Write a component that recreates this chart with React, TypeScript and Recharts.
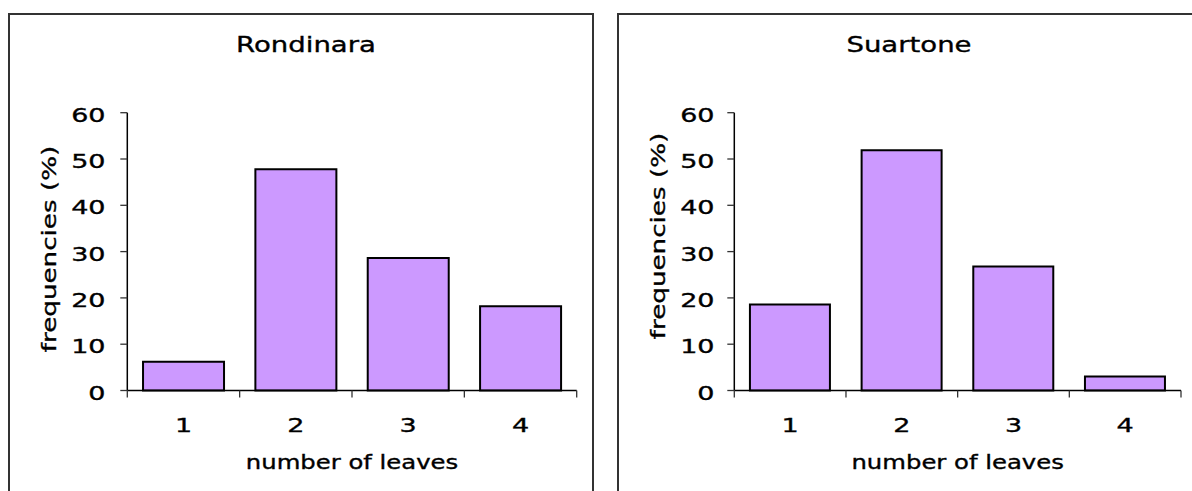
import { BarChart, Bar, XAxis, YAxis } from 'recharts';

// number of leaves per plant, frequencies in %
const categories = ['1', '2', '3', '4'];
const rondinaraFreq = [6.2, 47.8, 28.6, 18.2];
const suartoneFreq = [18.6, 51.9, 26.8, 3.0];
const freqTicks = [0, 10, 20, 30, 40, 50, 60];

const FONT = '"DejaVu Sans", Verdana, sans-serif';
const CHART_W = 582;
const CHART_H = 476;
const PLOT_TOP = 97.7;
const PLOT_BOTTOM = 375.5;
const TEXT_STROKE = 0.35;

const makeRows = (values: number[]) =>
  categories.map((c, i) => ({ leaves: c, freq: values[i] }));

// category label plus Excel-style tick marks on the category boundaries
const makeXTick = (halfBand: number) => ({ x, payload, index }: any) => (
  <g>
    <line x1={x - halfBand} x2={x - halfBand} y1={PLOT_BOTTOM} y2={PLOT_BOTTOM + 7} stroke="#333" strokeWidth={1.3} />
    {index === categories.length - 1 && (
      <line x1={x + halfBand} x2={x + halfBand} y1={PLOT_BOTTOM} y2={PLOT_BOTTOM + 7} stroke="#333" strokeWidth={1.3} />
    )}
    <text
      transform={`translate(${x},416.7) scale(1.35,1)`}
      textAnchor="middle"
      fontSize={20}
      fontFamily={FONT}
      fill="#000"
      stroke="#000"
      strokeWidth={TEXT_STROKE}
    >
      {payload.value}
    </text>
  </g>
);

const YTick = ({ y, payload }: any) => (
  <text
    transform={`translate(95.5,${y + 9}) scale(1.35,1)`}
    textAnchor="end"
    fontSize={20}
    fontFamily={FONT}
    fill="#000"
    stroke="#000"
    strokeWidth={TEXT_STROKE}
  >
    {payload.value}
  </text>
);

const Panel = ({ title, values, left, titleX, axisWidth, rightGap, yLabelY }: any) => {
  const plotW = CHART_W - axisWidth - rightGap;
  const plotCenterX = axisWidth + plotW / 2;
  const XTick = makeXTick(plotW / categories.length / 2);
  return (
    <div
      style={{
        position: 'absolute',
        left,
        top: 13,
        width: 586,
        height: 490,
        border: '2px solid #333',
        boxSizing: 'border-box',
        background: '#fff',
      }}
    >
      <div
        style={{
          position: 'absolute',
          left: titleX,
          top: 18.5,
          fontSize: 21.5,
          lineHeight: '21.5px',
          fontFamily: FONT,
          color: '#000',
          whiteSpace: 'nowrap',
          WebkitTextStroke: `${TEXT_STROKE}px #000`,
          transform: 'translateX(-50%) scaleX(1.28)',
        }}
      >
        {title}
      </div>
      <BarChart
        width={CHART_W}
        height={CHART_H}
        data={makeRows(values)}
        margin={{ top: PLOT_TOP, right: rightGap, bottom: CHART_H - PLOT_BOTTOM - 90, left: 0 }}
        barCategoryGap="14%"
      >
        <XAxis
          dataKey="leaves"
          height={90}
          axisLine={{ stroke: '#000', strokeWidth: 1.5 }}
          tickLine={false}
          tick={XTick}
          interval={0}
          label={() => (
            <text
              transform={`translate(${plotCenterX},454.3) scale(1.28,1)`}
              textAnchor="middle"
              fontSize={19}
              fontFamily={FONT}
              fill="#000"
              stroke="#000"
              strokeWidth={TEXT_STROKE}
            >
              number of leaves
            </text>
          )}
        />
        <YAxis
          domain={[0, 60]}
          ticks={freqTicks}
          width={axisWidth}
          tickSize={7}
          interval={0}
          tick={YTick}
          axisLine={{ stroke: '#000', strokeWidth: 1.5 }}
          tickLine={{ stroke: '#333', strokeWidth: 1.3 }}
          label={() => (
            <text
              transform={`translate(46.2,${yLabelY}) rotate(-90) scale(1.31,1)`}
              textAnchor="middle"
              fontSize={20}
              fontFamily={FONT}
              fill="#000"
              stroke="#000"
              strokeWidth={TEXT_STROKE}
            >
              frequencies (%)
            </text>
          )}
        />
        <Bar
          dataKey="freq"
          fill="#CC99FF"
          stroke="#000"
          strokeWidth={2}
          isAnimationActive={false}
        />
      </BarChart>
    </div>
  );
};

export default function App() {
  return (
    <div
      style={{
        position: 'fixed',
        left: 0,
        top: 0,
        width: 1192,
        height: 491,
        overflow: 'hidden',
        background: '#fff',
      }}
    >
      <Panel
        title="Rondinara"
        values={rondinaraFreq}
        left={8}
        titleX={295.7}
        axisWidth={117.3}
        rightGap={15.3}
        yLabelY={234}
      />
      <Panel
        title="Suartone"
        values={suartoneFreq}
        left={617}
        titleX={290.3}
        axisWidth={115.3}
        rightGap={20}
        yLabelY={221}
      />
    </div>
  );
}
